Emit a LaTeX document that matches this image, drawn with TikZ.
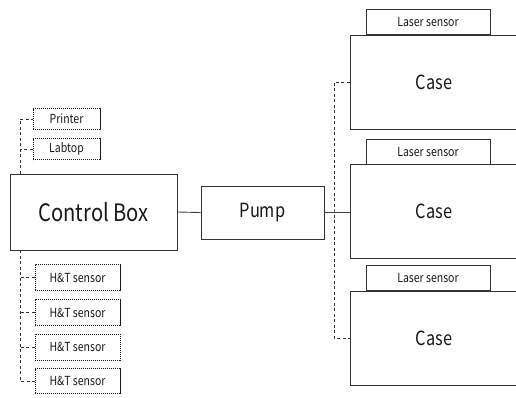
\documentclass[tikz,border=0pt]{standalone}
\usepackage{fontspec}
\setmainfont[FakeStretch=0.84]{Noto Sans CJK KR}
\begin{document}
\begin{tikzpicture}[x=1pt,y=-1pt,
  box/.style={draw=black!80,line width=0.8pt,fill=white,inner sep=0pt,text=black!90},
  dbox/.style={draw=black!90,line width=0.9pt,dash pattern=on 1.4pt off 0.6pt,inner sep=0pt,text=black!90,font=\fontsize{12.5}{12.5}\selectfont},
  lbox/.style={box,minimum width=124pt,minimum height=25pt,font=\fontsize{12.5}{12.5}\selectfont},
  casebox/.style={box,minimum width=168pt,minimum height=94pt,font=\fontsize{19.5}{19.5}\selectfont},
  dline/.style={draw=black!80,line width=0.8pt,dash pattern=on 3pt off 2.5pt},
  sline/.style={draw=black!75,line width=0.9pt}]
\clip (0,0) rectangle (516,397);
\fill[white] (0,0) rectangle (516,397);
% Control box
\node[box,minimum width=167pt,minimum height=76pt,font=\fontsize{24}{24}\selectfont] (cb) at (93.5,212) {Control Box};
\node[dbox,minimum width=67pt,minimum height=21pt] (printer) at (66.5,119) {Printer};
\node[dbox,minimum width=67pt,minimum height=21pt] (labtop) at (66.5,149) {Labtop};
\node[dbox,minimum width=85pt,minimum height=26pt] (ht1) at (77.5,277.5) {H\&T sensor};
\node[dbox,minimum width=85pt,minimum height=26pt] (ht2) at (77.5,312.5) {H\&T sensor};
\node[dbox,minimum width=85pt,minimum height=26pt] (ht3) at (77.5,347) {H\&T sensor};
\node[dbox,minimum width=85pt,minimum height=25pt] (ht4) at (77.5,381) {H\&T sensor};
% Pump
\node[box,minimum width=123pt,minimum height=53pt,font=\fontsize{19.5}{19.5}\selectfont] (pump) at (262.5,212.5) {Pump};
% Cases
\node[casebox] (case1) at (434,82) {Case};
\node[casebox] (case2) at (434,211.5) {Case};
\node[casebox] (case3) at (434,338) {Case};
\node[lbox,anchor=south] (las1) at (428,35) {Laser sensor};
\node[lbox,anchor=south] (las2) at (428,165) {Laser sensor};
\node[lbox,anchor=south] (las3) at (428,291) {Laser sensor};
% bus coordinates
\coordinate (lbus) at (20,212);
\coordinate (rbus) at (334,212);
% dashed connectors left
\draw[dline] (cb.north west -| lbus) |- (printer.west);
\draw[dline] (labtop.west) -- (labtop.west -| lbus);
\draw[dline] (cb.south west -| lbus) |- (ht4.west);
\draw[dline] (ht1.west) -- (ht1.west -| lbus);
\draw[dline] (ht2.west) -- (ht2.west -| lbus);
\draw[dline] (ht3.west) -- (ht3.west -| lbus);
% dashed connectors right
\draw[dline] (case1.west) -| (rbus) |- (case3.west);
% solid connectors
\draw[sline] (cb.east) -- (pump.west);
\draw[sline] (pump.east) -- (pump.east -| case2.west);
\end{tikzpicture}
\end{document}
